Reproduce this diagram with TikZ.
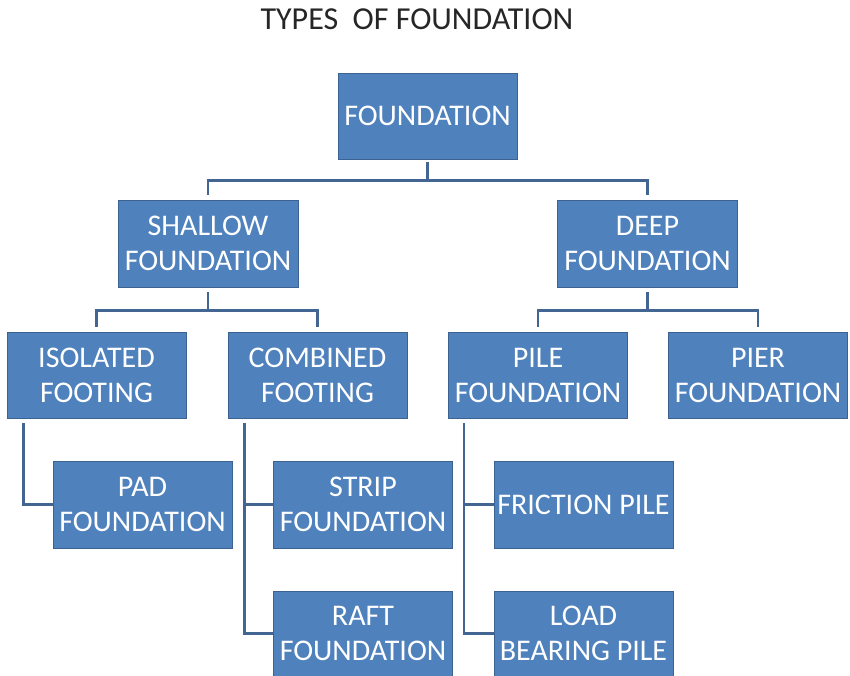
\documentclass[tikz,border=0pt]{standalone}
\usepackage{fontspec}
\setmainfont{Carlito}
\usepackage{tikz}
\usetikzlibrary{positioning}
\definecolor{boxblue}{RGB}{79,129,189}
\definecolor{boxedge}{RGB}{60,98,145}
\definecolor{linkblue}{RGB}{66,101,146}

\begin{document}
\begin{tikzpicture}[
  x=1pt,y=-1pt,
  box/.style={draw=boxedge,line width=0.8pt,fill=boxblue,text=white,align=center,
    minimum width=179pt,minimum height=86pt,inner sep=0pt,
    font=\fontsize{30}{35}\selectfont},
  heading/.style={font=\fontsize{32}{36}\selectfont,text=black!85},
  conn/.style={draw=linkblue,line width=2.6pt,shorten <=5pt},
  down/.style={conn,shorten >=5pt},
]
\useasboundingbox (0,0) rectangle (850,676);

% title
\node[heading] (title) at (417,19) {TYPES\ \ OF FOUNDATION};

% level 0
\node[box] (found) at (427.5,116) {FOUNDATION};

% level 1
\node[box,minimum width=180pt,minimum height=87pt] (shallow) at (208,243.5) {SHALLOW\\FOUNDATION};
\node[box,minimum width=180pt,minimum height=87pt] (deep) at (647.5,243.5) {DEEP\\FOUNDATION};

% level 2
\node[box] (isol) at (96.5,375) {ISOLATED\\FOOTING};
\node[box] (comb) at (317.5,375) {COMBINED\\FOOTING};
\node[box] (pile) at (538,375) {PILE\\FOUNDATION};
\node[box] (pier) at (758,375) {PIER\\FOUNDATION};

% level 3
\node[box,minimum height=87pt] (pad) at (142.5,504.5) {PAD\\FOUNDATION};
\node[box,minimum height=87pt] (strip) at (363,504.5) {STRIP\\FOUNDATION};
\node[box,minimum height=87pt] (fric) at (583.5,504.5) {FRICTION PILE};
\node[box,minimum height=85pt] (raft) at (363,633.5) {RAFT\\FOUNDATION};
\node[box,minimum height=85pt] (load) at (583.5,633.5) {LOAD\\BEARING PILE};

% connectors
\draw[down,shorten <=3pt] (found.south) -- ++(0,21) -| (shallow.north);
\draw[down,shorten <=3pt] (found.south) -- ++(0,21) -| (deep.north);
\draw[down] (shallow.south) -- ++(0,23) -| (isol.north);
\draw[down] (shallow.south) -- ++(0,23) -| (comb.north);
\draw[down] (deep.south) -- ++(0,23) -| (pile.north);
\draw[down] (deep.south) -- ++(0,23) -| (pier.north);
\draw[conn] ([xshift=17pt]isol.south west) |- (pad.west);
\draw[conn] ([xshift=17pt]comb.south west) |- (strip.west);
\draw[conn] ([xshift=17pt]comb.south west) |- (raft.west);
\draw[conn] ([xshift=16pt]pile.south west) |- (fric.west);
\draw[conn] ([xshift=16pt]pile.south west) |- (load.west);

\end{tikzpicture}
\end{document}
